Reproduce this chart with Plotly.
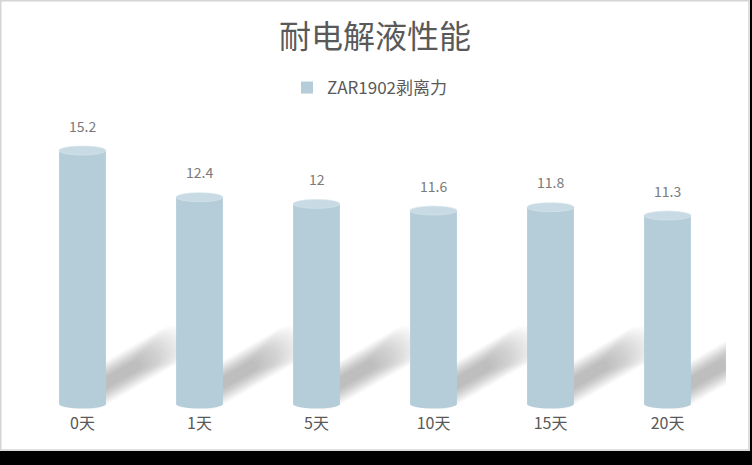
import math
import plotly.graph_objects as go

# %% data
categories = ["0天", "1天", "5天", "10天", "15天", "20天"]
peel_force = [15.2, 12.4, 12, 11.6, 11.8, 11.3]
series_name = "ZAR1902剥离力"
chart_title = "耐电解液性能"

# %% look
W, H = 752, 465
L, R, T, B = 24, 26, 100, 53
y_range = [-0.48, 18.23]
bar_w = 0.4
body = "#b4cdd9"
cap = "#c8dbe4"
grey_text = "#595959"
label_grey = "#7a7a7a"
font = "Noto Sans CJK SC"


def px_x(p):
    # figure pixel -> paper fraction
    return (p - L) / (W - L - R)


def px_y(p):
    return (H - B - p) / (H - T - B)


def capsule(start, length, thick, angle_deg=30, steps=10):
    """svg path of a rounded band, pixel units, y up"""
    a = math.radians(angle_deg)
    ux, uy = math.cos(a), math.sin(a)
    r = thick / 2
    ax, ay = start
    bx, by = ax + ux * length, ay + uy * length
    pts = []
    for k in range(steps + 1):
        t = a - math.pi / 2 + math.pi * k / steps
        pts.append((bx + r * math.cos(t), by + r * math.sin(t)))
    for k in range(steps + 1):
        t = a + math.pi / 2 + math.pi * k / steps
        pts.append((ax + r * math.cos(t), ay + r * math.sin(t)))
    return "M " + " L ".join(f"{px:.1f},{py:.1f}" for px, py in pts) + " Z"


x = list(range(len(categories)))

fig = go.Figure()
fig.add_trace(go.Bar(x=x, y=peel_force, width=bar_w, name=series_name,
                     marker=dict(color=body, line=dict(width=0)),
                     showlegend=True, hoverinfo="skip"))

shapes = []

# soft shadows cast to the upper right of every cylinder (stacked faint layers = blur)
n_layers = 18
shadow_paths = []
for k in range(n_layers):
    t = k / (n_layers - 1)
    shadow_paths.append(capsule((-14, 13), 92 - 42 * t, 38 - 28 * t))
for xi in x:
    for path in shadow_paths:
        shapes.append(dict(type="path", xref="x", yref="y", layer="below",
                           xsizemode="pixel", xanchor=xi + bar_w / 2,
                           ysizemode="pixel", yanchor=0, path=path,
                           fillcolor="#505050", opacity=0.022, line=dict(width=0)))

# rounded bottoms and lighter tops -> cylinder look
for xi, v in zip(x, peel_force):
    shapes.append(dict(type="circle", xref="x", yref="y", layer="above",
                       x0=xi - bar_w / 2, x1=xi + bar_w / 2,
                       ysizemode="pixel", yanchor=0, y0=-4.5, y1=4.5,
                       fillcolor=body, line=dict(width=0)))
    shapes.append(dict(type="circle", xref="x", yref="y", layer="above",
                       x0=xi - bar_w / 2, x1=xi + bar_w / 2,
                       ysizemode="pixel", yanchor=v, y0=-4.5, y1=4.5,
                       fillcolor=cap, line=dict(width=0.6, color="#d6e4ea")))

# frame of the screenshot: thin grey border, black strip bottom and right
shapes.append(dict(type="rect", xref="paper", yref="paper", layer="below",
                   x0=px_x(0.7), x1=px_x(749), y0=px_y(450), y1=px_y(0.7),
                   line=dict(color="#d4d4d4", width=1.5), fillcolor="rgba(0,0,0,0)"))
shapes.append(dict(type="rect", xref="paper", yref="paper", layer="above",
                   x0=px_x(-5), x1=px_x(760), y0=px_y(470), y1=px_y(451),
                   line=dict(width=0), fillcolor="#000000"))
shapes.append(dict(type="rect", xref="paper", yref="paper", layer="above",
                   x0=px_x(750), x1=px_x(760), y0=px_y(470), y1=px_y(-5),
                   line=dict(width=0), fillcolor="#000000"))

annotations = [dict(x=xi, y=v, text=f"{v:g}", showarrow=False, yshift=25,
                    font=dict(family=font, size=14, color=label_grey))
               for xi, v in zip(x, peel_force)]

fig.update_layout(
    width=W, height=H,
    margin=dict(l=L, r=R, t=T, b=B, autoexpand=False),
    paper_bgcolor="white", plot_bgcolor="white",
    font=dict(family=font, color=grey_text),
    title=dict(text=chart_title, x=0.5, xanchor="center", xref="paper",
               y=1 - 37 / H, yanchor="middle", yref="container",
               font=dict(family=font, size=32, color=grey_text)),
    legend=dict(orientation="h", x=0.5 - 5 / (W - L - R), xanchor="center", y=1 - 88 / H,
                yanchor="middle", yref="container", itemwidth=30,
                font=dict(family=font, size=17, color=grey_text)),
    shapes=shapes, annotations=annotations,
    bargap=0.6, hovermode=False,
)
fig.update_xaxes(range=[-0.5, len(categories) - 0.5], tickvals=x, ticktext=categories,
                 showgrid=False, zeroline=False, showline=False, ticks="",
                 tickfont=dict(family=font, size=16, color=grey_text))
fig.update_yaxes(range=y_range, visible=False, showgrid=False, zeroline=False)

fig.write_html("out.html", config={"displayModeBar": False},
               post_script="document.body.style.margin='0';")
